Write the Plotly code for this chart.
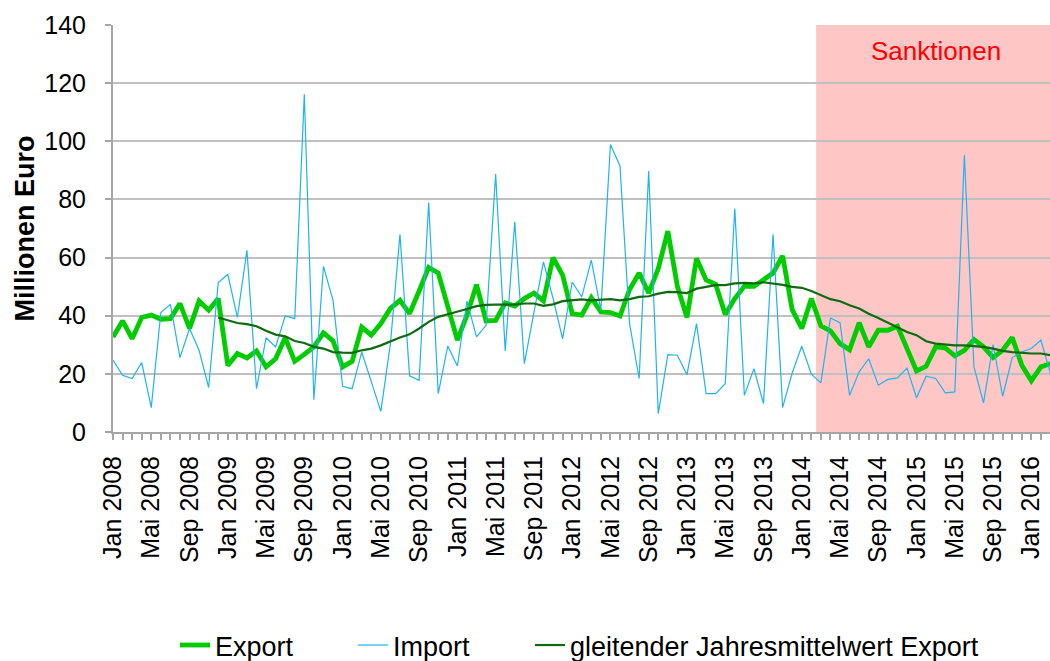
import plotly.graph_objects as go

# ---------------- data ----------------
monate = ["Jan", "Feb", "Mär", "Apr", "Mai", "Jun", "Jul", "Aug", "Sep", "Okt", "Nov", "Dez"]
jahre = [2008, 2009, 2010, 2011, 2012, 2013, 2014, 2015, 2016]
kategorien = [f"{m} {j}" for j in jahre for m in monate][:99]  # Jan 2008 .. Mär 2016

export = [
    32.7, 38.2, 32.1, 39.4, 40.2, 38.8, 39.0, 44.2, 35.6, 45.1, 41.9, 45.9,
    22.9, 27.0, 25.5, 27.9, 22.4, 25.2, 32.4, 24.3, 26.7, 29.3, 34.1, 31.3,
    22.4, 24.3, 36.1, 33.3, 37.3, 42.5, 45.3, 40.7, 48.5, 56.6, 54.7, 43.0,
    31.6, 40.2, 50.7, 38.2, 38.4, 44.4, 43.3, 45.9, 47.8, 45.1, 60.0, 54.0,
    40.7, 40.2, 46.2, 41.3, 41.1, 39.9, 49.0, 54.7, 47.8, 56.2, 69.1, 50.1,
    39.4, 59.7, 52.3, 50.8, 40.4, 45.9, 50.1, 50.1, 52.2, 54.7, 60.6, 42.1,
    35.6, 45.9, 36.5, 34.8, 30.4, 28.3, 37.6, 29.3, 35.0, 35.0, 36.4, 28.3,
    21.0, 22.6, 29.3, 28.9, 26.2, 28.1, 31.8, 29.3, 25.6, 28.1, 32.5, 23.0,
    17.6, 22.4, 23.5,
]

importe = [
    24.7, 19.5, 18.4, 23.9, 8.4, 41.1, 43.9, 25.6, 35.6, 28.1, 15.3, 51.4,
    54.2, 39.4, 62.5, 14.9, 32.4, 29.3, 39.9, 39.0, 116.2, 11.1, 57.0, 45.3,
    15.7, 14.9, 27.5, 17.5, 7.1, 30.4, 68.0, 19.3, 17.8, 78.9, 13.2, 29.6,
    22.7, 45.0, 32.7, 36.7, 88.7, 27.9, 72.3, 23.5, 41.0, 58.5, 46.0, 32.0,
    51.6, 46.5, 59.1, 41.9, 98.9, 91.5, 37.3, 18.4, 89.8, 6.3, 26.6, 26.4,
    19.7, 37.3, 13.2, 13.2, 16.6, 76.9, 12.6, 21.8, 9.8, 68.0, 8.4, 20.3,
    29.5, 19.9, 16.9, 39.2, 37.6, 12.6, 20.7, 25.2, 16.1, 18.1, 18.6, 22.0,
    11.8, 19.2, 18.4, 13.5, 13.8, 95.2, 22.4, 10.0, 30.1, 12.3, 25.6, 27.5,
    28.7, 31.6, 20.1,
]

gleitend = [None] * 11 + [
    39.4, 38.4, 37.5, 37.1, 36.4, 34.8, 33.5, 32.9, 31.3, 30.6, 29.3, 28.7, 27.5,
    27.3, 27.2, 28.1, 28.7, 29.8, 31.2, 32.5, 33.6, 35.6, 37.9, 39.6, 40.5,
    41.3, 42.3, 43.3, 43.7, 43.8, 43.9, 43.8, 44.2, 44.2, 43.4, 43.9, 45.0,
    45.3, 45.6, 45.3, 45.6, 45.7, 45.3, 45.7, 46.5, 46.7, 47.6, 48.2, 48.1,
    47.8, 49.3, 49.9, 50.5, 50.5, 51.1, 51.3, 51.1, 51.5, 51.1, 50.6, 49.9,
    49.6, 48.5, 47.0, 45.7, 45.0, 43.6, 42.5, 40.7, 39.2, 37.6, 35.9, 34.4,
    33.3, 31.2, 30.4, 30.1, 29.8, 29.8, 29.5, 29.3, 28.7, 27.9, 27.5, 27.2,
    27.0, 27.0, 26.4,
]

sanktionen_start = "Mär 2014"
sanktionen_text = "Sanktionen"
y_max = 140

# ---------------- figure ----------------
FONT = "Liberation Sans, Arial, sans-serif"
x = list(range(len(kategorien)))
i_start = kategorien.index(sanktionen_start)
i_end = len(kategorien) - 1

fig = go.Figure()
fig.add_trace(go.Scatter(x=x, y=export, name="Export", mode="lines",
                         line=dict(color="#00CC00", width=4.8), customdata=kategorien,
                         legendwidth=133,
                         hovertemplate="%{customdata}: %{y}<extra>Export</extra>"))
fig.add_trace(go.Scatter(x=x, y=importe, name="Import", mode="lines",
                         line=dict(color="#1EB4F0", width=1.2), customdata=kategorien,
                         legendwidth=132,
                         hovertemplate="%{customdata}: %{y}<extra>Import</extra>"))
fig.add_trace(go.Scatter(x=x, y=gleitend, name="gleitender Jahresmittelwert Export", mode="lines",
                         line=dict(color="#106A10", width=2.2), customdata=kategorien,
                         hovertemplate="%{customdata}: %{y}<extra></extra>"))

fig.add_shape(type="rect", xref="x", yref="y", x0=i_start - 0.5, x1=i_end + 0.5,
              y0=0, y1=y_max, fillcolor="#FFC6C6", line=dict(width=0), layer="below")
fig.add_annotation(x=(i_start - 0.5 + i_end + 0.5) / 2, y=y_max * 0.935, xref="x", yref="y",
                   text=sanktionen_text, showarrow=False,
                   font=dict(family=FONT, size=26, color="#FF0000"))

fig.update_layout(
    width=1050, height=661,
    margin=dict(l=113, r=0, t=25, b=229, autoexpand=False),
    paper_bgcolor="white", plot_bgcolor="white",
    font=dict(family=FONT, size=26, color="black"),
    showlegend=True,
    legend=dict(orientation="h", x=0.0662, xanchor="left", y=-0.5245, yanchor="middle",
                font=dict(family=FONT, size=27), bgcolor="rgba(0,0,0,0)", traceorder="normal"),
)
fig.update_xaxes(
    range=[0, 97.95], showgrid=False, zeroline=False,
    showline=True, linecolor="#A6A6A6", linewidth=2,
    tickmode="array", tickvals=x[::4], ticktext=kategorien[::4],
    tickangle=-90, ticks="outside", ticklen=6, tickcolor="#A6A6A6", tickwidth=1.5,
    minor=dict(dtick=1, tick0=0, ticks="outside", ticklen=6, tickcolor="#A6A6A6", tickwidth=1.5, showgrid=False),
    ticklabelstandoff=6, automargin=False,
    tickfont=dict(family=FONT, size=25, color="black"),
)
fig.update_yaxes(
    range=[0, y_max], dtick=20, tick0=0, showgrid=True, gridcolor="#C0C0C0", gridwidth=1.5,
    zeroline=False, showline=True, linecolor="#A6A6A6", linewidth=2,
    ticks="outside", ticklen=6, tickcolor="#A6A6A6", tickwidth=1.5,
    ticklabelstandoff=14, automargin=False,
    tickfont=dict(family=FONT, size=25, color="black"),
    title=dict(text="<b>Millionen Euro</b>", standoff=2, font=dict(family=FONT, size=27, color="black")),
)

fig.write_html("out.html", config={"displayModeBar": False},
               post_script="document.body.style.margin='0';document.body.style.overflow='hidden';")
